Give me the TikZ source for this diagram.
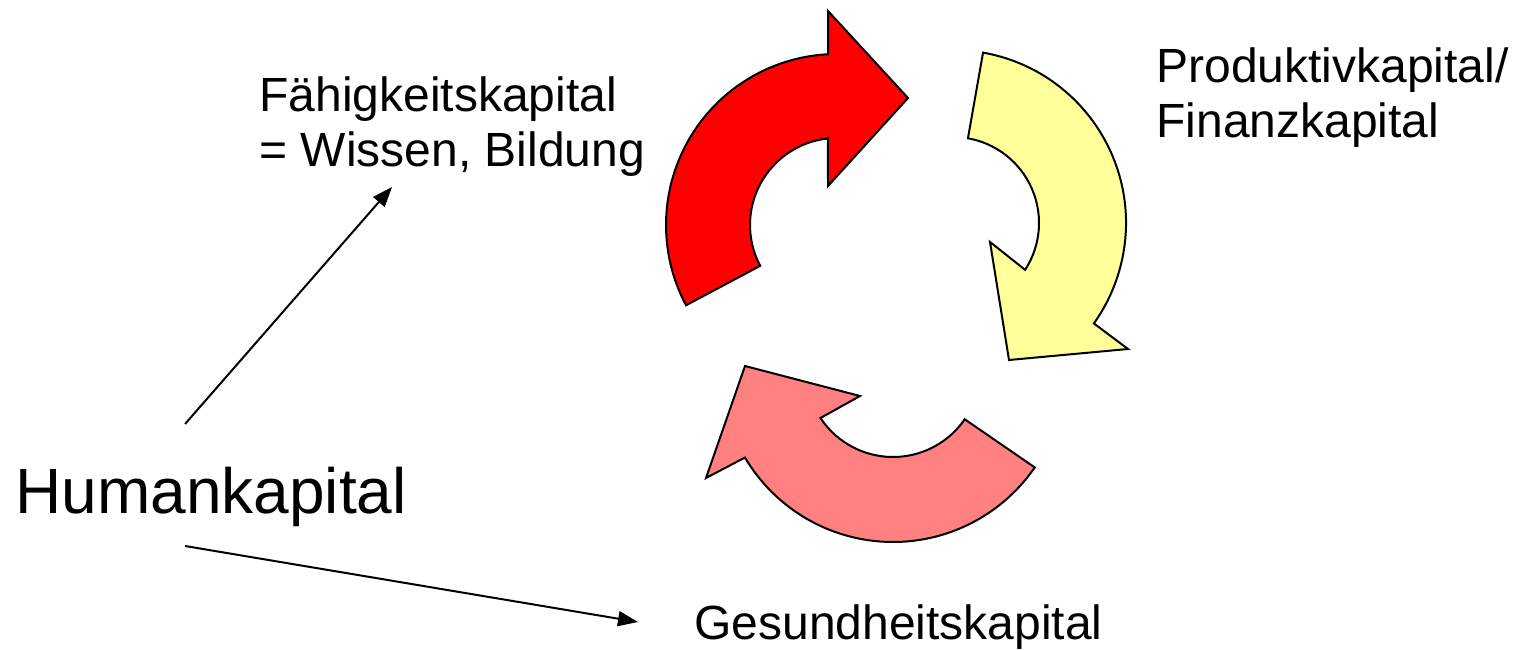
\documentclass[tikz,border=0pt]{standalone}
\usepackage{fontspec}
\setmainfont{Liberation Sans}
\usetikzlibrary{arrows.meta,calc}
\definecolor{kred}{HTML}{FF0000}
\definecolor{kyellow}{HTML}{FFFF99}
\definecolor{kpink}{HTML}{FF8080}
\begin{document}
\begin{tikzpicture}[x=0.5pt,y=0.5pt,
    cyc/.style={draw=black,line width=1pt,line join=miter},
    lbl/.style={inner sep=0pt,anchor=base west,align=left,font=\fontsize{24}{27.6}\selectfont},
    con/.style={line width=1pt,-{Triangle[length=10pt,width=7.5pt]}}]
  \useasboundingbox (0,0) rectangle (1519,649);
  % centres of the circular arrows
  \coordinate (cr) at (837,424);
  \coordinate (cy) at (953,426);
  \coordinate (cp) at (893,279);
  % red arrow
  \filldraw[cyc,fill=kred] ($(cr)+(208:85.5pt)$) arc[start angle=208,end angle=93,radius=85.5pt]
    -- (828,638) -- (908,551) -- (828,463) -- ($(cr)+(96:43.5pt)$)
    arc[start angle=96,end angle=208,radius=43.5pt] -- cycle;
  % yellow arrow
  \filldraw[cyc,fill=kyellow] ($(cy)+(80:86.5pt)$) arc[start angle=80,end angle=-35.5,radius=86.5pt]
    -- (1128,300) -- (1009,289) -- (990,407) -- ($(cy)+(-33:43pt)$)
    arc[start angle=-33,end angle=80,radius=43pt] -- cycle;
  % pink arrow
  \filldraw[cyc,fill=kpink] ($(cp)+(-34.5:86pt)$) arc[start angle=-34.5,end angle=-149.4,radius=86pt]
    -- (706,171) -- (745,283) -- (860,253) -- ($(cp)+(-146.5:43.5pt)$)
    arc[start angle=-146.5,end angle=-34.5,radius=43.5pt] -- cycle;
  % labels (base = last line)
  \node[lbl] (faehig) at (259,482) {Fähigkeitskapital\\= Wissen, Bildung};
  \node[lbl] (prod) at (1156,511) {Produktivkapital/\\Finanzkapital};
  \node[lbl,font=\fontsize{32}{37}\selectfont] (human) at (15,136) {Humankapital};
  \node[lbl] (gesund) at (694,10) {Gesundheitskapital};
  % connectors
  \draw[con] ([shift={(-26,89)}]human.base) -- ([shift={(133,-20)}]faehig.base west);
  \draw[con] ([shift={(-26,-33)}]human.base) -- ([shift={(-56,17)}]gesund.base west);
\end{tikzpicture}
\end{document}
